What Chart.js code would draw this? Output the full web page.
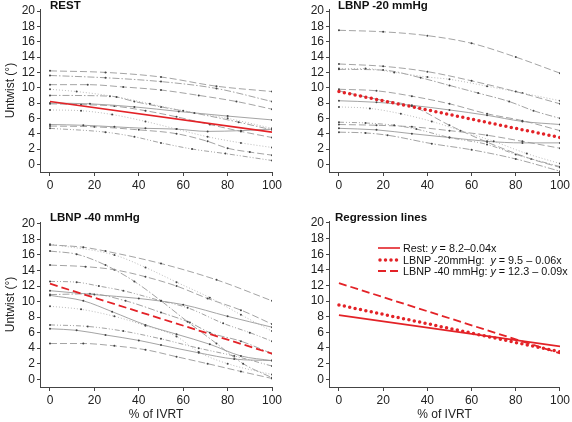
<!DOCTYPE html>
<html>
<head>
<meta charset="utf-8">
<script src="https://cdn.jsdelivr.net/npm/chart.js@4"></script>
<style>
  body { margin: 0; background: #fff; font-family: "Liberation Sans", Arial, sans-serif; }
  #wrap { position: relative; width: 572px; height: 422px; overflow: hidden; }
  canvas { position: absolute; }
  .ttl { position: absolute; font-weight: bold; font-size: 11.5px; line-height: 12px; color: #111; white-space: nowrap; }
  #legend { position: absolute; left: 378px; top: 243px; font-size: 10.8px; color: #111; }
  #legend div { height: 11.5px; line-height: 11.5px; white-space: nowrap; }
  #legend svg { vertical-align: middle; margin-right: 3px; position: relative; top: -1px; }
</style>
</head>
<body>
<div id="wrap">
  <canvas id="c1" width="286" height="211" style="left:0;top:0"></canvas>
  <canvas id="c2" width="286" height="211" style="left:286px;top:0"></canvas>
  <canvas id="c3" width="286" height="211" style="left:0;top:211px"></canvas>
  <canvas id="c4" width="286" height="211" style="left:286px;top:211px"></canvas>
  <div class="ttl" style="left:50px;top:-1px">REST</div>
  <div class="ttl" style="left:338px;top:-1px">LBNP -20 mmHg</div>
  <div class="ttl" style="left:50px;top:211px">LBNP -40 mmHg</div>
  <div class="ttl" style="left:335px;top:211px">Regression lines</div>
  <div id="legend">
    <div><svg width="22" height="8"><line x1="0" y1="4" x2="22" y2="4" stroke="#e32227" stroke-width="1.6"/></svg>Rest: <i>y</i> = 8.2–0.04x</div>
    <div><svg width="22" height="8"><line x1="2" y1="4" x2="21" y2="4" stroke="#e32227" stroke-width="3.5" stroke-linecap="round" stroke-dasharray="0 5.5"/></svg>LBNP -20mmHg:&nbsp; <i>y</i> = 9.5 – 0.06x</div>
    <div><svg width="22" height="8"><line x1="0" y1="4" x2="22" y2="4" stroke="#e32227" stroke-width="1.8" stroke-dasharray="8 4"/></svg>LBNP -40 mmHg: <i>y</i> = 12.3 – 0.09x</div>
  </div>
</div>
<script>
const xTicks = [0, 20, 40, 60, 80, 100];
const yTicks = [0, 2, 4, 6, 8, 10, 12, 14, 16, 18, 20];

// individual subjects, [x, y] pairs
const restSubjects = [
  [[0,12.2],[25,12.0],[50,11.4],[75,10.2],[100,9.5]],
  [[0,11.6],[25,11.3],[50,10.8],[75,9.9],[100,8.2]],
  [[0,10.4],[17,10.4],[33,10.1],[50,9.7],[67,9.0],[84,8.2],[100,7.2]],
  [[0,9.8],[12,9.5],[30,8.8],[45,7.9],[60,7.0],[80,6.0],[100,4.7]],
  [[0,9.0],[27,8.9],[38,8.2],[50,7.5],[65,6.7],[85,5.5],[100,4.5]],
  [[0,8.0],[18,7.9],[38,7.5],[58,6.9],[80,6.3],[100,5.8]],
  [[0,7.9],[14,7.8],[29,7.6],[43,7.0],[57,6.2],[72,5.2],[86,4.3],[100,3.5]],
  [[0,7.1],[14,7.0],[28,6.5],[43,5.6],[57,4.6],[71,3.6],[86,2.8],[100,2.2]],
  [[0,5.2],[15,5.1],[29,4.9],[43,4.7],[57,4.6],[71,4.3],[86,4.4],[100,4.6]],
  [[0,4.7],[25,4.2],[38,3.6],[50,2.8],[64,2.0],[79,1.4],[100,0.5]],
  [[0,5.0],[20,4.9],[40,4.5],[57,4.0],[71,3.0],[80,2.1],[90,1.6],[100,1.2]]
];
const restStyles = [1, 2, 1, 3, 2, 0, 1, 3, 0, 4, 1];

const lbnp20Subjects = [
  [[0,17.5],[20,17.3],[40,16.8],[60,15.8],[80,14.0],[100,11.9]],
  [[0,13.1],[20,12.8],[40,12.1],[60,10.9],[80,9.5],[100,7.9]],
  [[0,12.5],[12,12.5],[25,12.0],[40,11.4],[50,11.1],[67,10.2],[83,9.3],[100,8.3]],
  [[0,12.4],[20,12.3],[37,11.3],[50,10.3],[63,9.3],[77,8.2],[88,7.0],[100,6.0]],
  [[0,9.8],[17,9.6],[33,8.9],[50,7.9],[67,6.6],[83,5.7],[100,4.4]],
  [[0,8.3],[17,8.1],[33,7.7],[50,7.1],[67,6.4],[83,5.6],[100,5.2]],
  [[0,7.5],[14,7.3],[28,6.6],[42,5.6],[55,4.4],[70,3.0],[85,1.4],[100,0.1]],
  [[0,5.5],[12,5.4],[25,5.1],[35,4.6],[50,3.5],[67,2.6],[80,1.3],[100,-0.3]],
  [[0,5.2],[17,5.1],[33,4.9],[50,4.4],[67,3.8],[83,3.0],[100,2.1]],
  [[0,4.7],[17,4.5],[33,4.0],[50,3.5],[67,3.0],[83,2.8],[100,2.8]],
  [[0,4.2],[12,4.1],[22,3.8],[42,2.7],[60,1.9],[80,0.7],[100,-0.9]],
  [[0,9.6],[17,8.5],[33,7.6],[50,5.1],[67,2.9],[87,0.7],[100,-0.4]]
];
const lbnp20Styles = [1, 1, 3, 2, 1, 0, 3, 4, 1, 0, 2, 1];

const lbnp40Subjects = [
  [[0,17.3],[15,17.0],[25,16.5],[50,14.9],[75,12.8],[100,10.1]],
  [[0,17.4],[29,16.0],[43,14.4],[57,12.5],[72,10.5],[86,8.3],[100,6.2]],
  [[0,16.5],[12,16.1],[25,14.7],[38,12.6],[50,10.1],[62,7.4],[75,4.6],[87,2.0],[100,0.2]],
  [[0,14.7],[16,14.5],[29,14.1],[43,13.2],[57,12.0],[71,10.4],[86,8.9],[100,7.1]],
  [[0,12.6],[12,12.5],[22,12.0],[33,11.4],[50,10.1],[62,9.2],[78,7.2],[90,6.0],[100,4.9]],
  [[0,11.4],[20,10.9],[40,10.4],[60,9.6],[80,8.1],[100,6.7]],
  [[0,10.8],[15,10.1],[28,8.7],[43,7.0],[57,5.8],[72,4.5],[86,3.0],[100,2.4]],
  [[0,10.9],[18,11.0],[34,10.1],[50,8.6],[63,7.3],[72,6.0],[86,4.9],[100,3.3]],
  [[0,9.4],[14,9.0],[29,8.1],[43,6.9],[57,5.5],[67,3.5],[80,2.0],[100,0.6]],
  [[0,7.0],[17,6.8],[33,6.2],[50,5.2],[67,4.0],[83,3.0],[100,1.7]],
  [[0,6.5],[12,6.3],[25,5.7],[40,5.0],[50,4.4],[67,3.4],[83,2.6],[100,2.4]],
  [[0,4.6],[15,4.6],[29,4.3],[43,3.8],[57,2.9],[71,2.0],[86,1.0],[100,0.1]]
];
const lbnp40Styles = [1, 3, 2, 1, 4, 0, 0, 2, 3, 4, 0, 1];

// regression lines, values at x = 0 and x = 100
const regX = [0, 100];
const restLine = [8.2, 4.2];
const lbnp20Line = [9.5, 3.5];
const lbnp40Line = [12.3, 3.3];

const RED = "#e32227";
const dashes = [[], [7, 3], [7, 2, 1.5, 2], [1, 2], [5, 2, 1, 2, 1, 2]];

Chart.defaults.font.family = '"Liberation Sans", Arial, sans-serif';
Chart.defaults.color = "#222";

function subjectSets(list, styles) {
  return list.map((pts, i) => ({
    data: pts.map(p => ({ x: p[0], y: p[1] })),
    borderColor: styles[i] === 3 ? "#b4b4b4" : "#9a9a9a",
    borderWidth: 0.9,
    borderDash: dashes[styles[i]],
    pointRadius: 1,
    pointBackgroundColor: "#444",
    pointBorderWidth: 0,
    cubicInterpolationMode: "monotone",
    fill: false
  }));
}

function regSet(vals, kind) {
  const ds = {
    data: regX.map((x, i) => ({ x: x, y: vals[i] })),
    borderColor: RED,
    pointRadius: 0,
    fill: false
  };
  if (kind === "solid") {
    ds.borderWidth = 1.6;
  } else if (kind === "dots") {
    ds.borderWidth = 3.5;
    ds.borderDash = [0, 5.5];
    ds.borderCapStyle = "round";
  } else {
    ds.borderWidth = 1.8;
    ds.borderDash = [8, 4];
  }
  return ds;
}

function makeChart(id, datasets, p) {
  return new Chart(document.getElementById(id), {
    type: "line",
    data: { datasets: datasets },
    options: {
      responsive: false,
      animation: false,
      events: [],
      layout: { padding: { top: p.top, right: p.right, left: 0, bottom: 0 } },
      plugins: { legend: { display: false }, tooltip: { enabled: false } },
      scales: {
        x: {
          type: "linear", min: -4.5, max: 100,
          afterBuildTicks: s => { s.ticks = xTicks.map(v => ({ value: v })); },
          afterFit: s => { s.height = p.bottom; },
          grid: { drawOnChartArea: false, tickLength: 4, color: "#444" },
          border: { color: "#444" },
          ticks: { padding: 2, font: { size: 12 }, maxRotation: 0, autoSkip: false, color: "#222" },
          title: { display: p.xTitle, text: "% of IVRT", font: { size: 12 }, color: "#222", padding: 0 }
        },
        y: {
          type: "linear", min: -1, max: 20.25,
          afterBuildTicks: s => { s.ticks = yTicks.map(v => ({ value: v })); },
          afterFit: s => { s.width = p.left; },
          grid: { drawOnChartArea: false, tickLength: 3, color: "#444" },
          border: { color: "#444" },
          ticks: { padding: 2, font: { size: 12 }, autoSkip: false, color: "#222" },
          title: { display: p.yTitle, text: "Untwist (°)", font: { size: 12 }, color: "#222", padding: { top: 3, bottom: 0 } }
        }
      }
    }
  });
}

makeChart("c1", [regSet(restLine, "solid")].concat(subjectSets(restSubjects, restStyles)),
  { top: 9, right: 14, left: 40, bottom: 39, xTitle: false, yTitle: true });
makeChart("c2", [regSet(lbnp20Line, "dots")].concat(subjectSets(lbnp20Subjects, lbnp20Styles)),
  { top: 9, right: 12, left: 43, bottom: 39, xTitle: false, yTitle: false });
makeChart("c3", [regSet(lbnp40Line, "dash")].concat(subjectSets(lbnp40Subjects, lbnp40Styles)),
  { top: 11, right: 14, left: 40, bottom: 35, xTitle: true, yTitle: true });
makeChart("c4", [regSet(lbnp40Line, "dash"), regSet(lbnp20Line, "dots"), regSet(restLine, "solid")],
  { top: 10, right: 9, left: 43, bottom: 35, xTitle: true, yTitle: false });
</script>
</body>
</html>
